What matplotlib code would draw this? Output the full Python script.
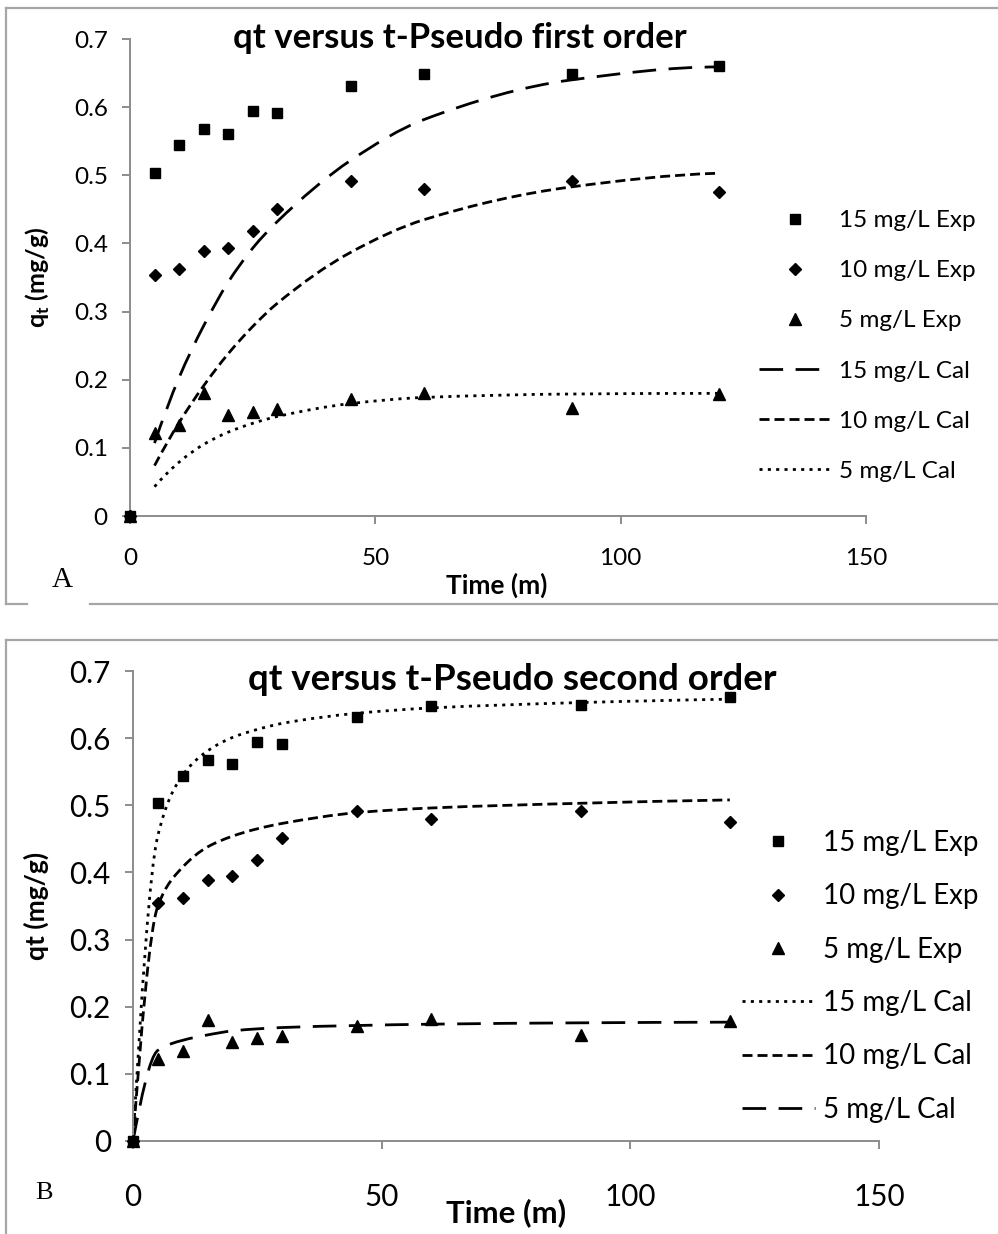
import matplotlib
matplotlib.use("Agg")
import matplotlib.pyplot as plt
from matplotlib.path import Path
from matplotlib.patches import PathPatch
from matplotlib.lines import Line2D

plt.rcParams['font.family'] = ['Lato', 'DejaVu Sans']
plt.rcParams['mathtext.fontset'] = 'custom'
plt.rcParams['mathtext.rm'] = 'Lato'
plt.rcParams['mathtext.bf'] = 'Lato:bold'

# experimental data (same in both panels)
t_exp = [0, 5, 10, 15, 20, 25, 30, 45, 60, 90, 120]
q15_exp = [0, 0.503, 0.544, 0.568, 0.561, 0.595, 0.591, 0.631, 0.648, 0.649, 0.661]
q10_exp = [0, 0.354, 0.362, 0.389, 0.394, 0.418, 0.451, 0.491, 0.480, 0.491, 0.475]
q5_exp = [0, 0.122, 0.134, 0.180, 0.148, 0.153, 0.157, 0.171, 0.181, 0.158, 0.179]

# pseudo first order calculated
t_pfo = [5, 10, 15, 20, 25, 30, 45, 60, 90, 120]
q15_pfo = [0.107, 0.203, 0.279, 0.343, 0.393, 0.432, 0.522, 0.582, 0.640, 0.659]
q10_pfo = [0.074, 0.137, 0.191, 0.238, 0.278, 0.312, 0.387, 0.435, 0.483, 0.503]
q5_pfo = [0.043, 0.079, 0.105, 0.123, 0.136, 0.146, 0.165, 0.174, 0.179, 0.180]

# pseudo second order calculated
t_pso = [0, 5, 10, 15, 20, 25, 30, 45, 60, 90, 120]
q15_pso = [0, 0.455, 0.545, 0.581, 0.601, 0.613, 0.622, 0.637, 0.645, 0.653, 0.658]
q10_pso = [0, 0.350, 0.408, 0.438, 0.454, 0.465, 0.473, 0.489, 0.496, 0.503, 0.508]
q5_pso = [0, 0.135, 0.150, 0.158, 0.164, 0.167, 0.169, 0.172, 0.174, 0.176, 0.177]

exp_labels = ['15 mg/L Exp', '10 mg/L Exp', '5 mg/L Exp']
cal_labels = ['15 mg/L Cal', '10 mg/L Cal', '5 mg/L Cal']

LONG = (0, (8.5, 4.5))
SHORT = (0, (3.6, 1.8))
DOT = (0, (1.1, 1.9))
GRID = '#8c8c8c'
W, H = 998.0, 1234.0


def end_slope(h0, h1, d0, d1):
    m = ((2 * h0 + h1) * d0 - h0 * d1) / (h0 + h1)
    if m * d0 <= 0:
        return 0.0
    if d0 * d1 <= 0 and abs(m) > 3 * abs(d0):
        return 3 * d0
    return m


def slopes(x, y):
    # monotone (pchip style) tangents so the smoothed line does not overshoot
    n = len(x)
    h = [x[i + 1] - x[i] for i in range(n - 1)]
    d = [(y[i + 1] - y[i]) / h[i] for i in range(n - 1)]
    m = [0.0] * n
    for i in range(1, n - 1):
        if d[i - 1] * d[i] > 0:
            w1 = 2 * h[i] + h[i - 1]
            w2 = h[i] + 2 * h[i - 1]
            m[i] = (w1 + w2) / (w1 / d[i - 1] + w2 / d[i])
    m[0] = end_slope(h[0], h[1], d[0], d[1])
    m[-1] = end_slope(h[-1], h[-2], d[-1], d[-2])
    return m


def smooth(ax, x, y, ls, lw=2.0):
    # smoothed line: cubic bezier segments through the points
    m = slopes(x, y)
    verts = [(x[0], y[0])]
    codes = [Path.MOVETO]
    for i in range(len(x) - 1):
        h = (x[i + 1] - x[i]) / 3
        verts += [(x[i] + h, y[i] + m[i] * h),
                  (x[i + 1] - h, y[i + 1] - m[i + 1] * h),
                  (x[i + 1], y[i + 1])]
        codes += [Path.CURVE4] * 3
    ax.add_patch(PathPatch(Path(verts, codes), fill=False, edgecolor='black',
                           lw=lw, linestyle=ls))


def panel(ax, cal_t, cal_q, cal_ls, fs, xpad, leg_xy, leg_fs, lspace, hlen, tpad):
    ax.plot(t_exp, q15_exp, 's', color='black', ms=7.5, clip_on=False, zorder=4)
    ax.plot(t_exp, q10_exp, 'D', color='black', ms=6.5, clip_on=False, zorder=4)
    ax.plot(t_exp, q5_exp, '^', color='black', ms=9, clip_on=False, zorder=4)
    for q, ls in zip(cal_q, cal_ls):
        smooth(ax, cal_t, q, ls)
    ax.set_xlim(0, 150)
    ax.set_ylim(0, 0.7)
    ax.set_xticks([0, 50, 100, 150])
    ax.set_yticks([0, 0.1, 0.2, 0.3, 0.4, 0.5, 0.6, 0.7])
    ax.set_yticklabels(['0', '0.1', '0.2', '0.3', '0.4', '0.5', '0.6', '0.7'])
    for s in ['top', 'right']:
        ax.spines[s].set_visible(False)
    for s in ['left', 'bottom']:
        ax.spines[s].set_color(GRID)
        ax.spines[s].set_linewidth(1.4)
    ax.tick_params(direction='out', length=6, width=1.4, color=GRID, labelsize=fs)
    ax.tick_params(axis='x', pad=xpad)
    ax.tick_params(axis='y', pad=10)

    handles = [Line2D([], [], ls='none', marker='s', color='black', ms=7.5),
               Line2D([], [], ls='none', marker='D', color='black', ms=6.5),
               Line2D([], [], ls='none', marker='^', color='black', ms=9)]
    for ls in cal_ls:
        handles.append(Line2D([], [], color='black', lw=2.0, linestyle=ls))
    ax.legend(handles, exp_labels + cal_labels, loc='upper left',
              bbox_to_anchor=leg_xy, bbox_transform=ax.figure.transFigure,
              frameon=False, fontsize=leg_fs, handlelength=hlen, handletextpad=tpad,
              labelspacing=lspace, borderpad=0, borderaxespad=0)


fig = plt.figure(figsize=(9.98, 12.34), dpi=100)

# panel frames
fl = dict(color='#a6a6a6', lw=1.6, transform=fig.transFigure)
fig.add_artist(Line2D([6 / W, 1], [1 - 8 / H, 1 - 8 / H], **fl))
fig.add_artist(Line2D([6 / W, 6 / W], [1 - 8 / H, 1 - 604 / H], **fl))
fig.add_artist(Line2D([6 / W, 27 / W], [1 - 604 / H, 1 - 604 / H], **fl))
fig.add_artist(Line2D([90 / W, 1], [1 - 604 / H, 1 - 604 / H], **fl))
fig.add_artist(Line2D([6 / W, 1], [1 - 640 / H, 1 - 640 / H], **fl))
fig.add_artist(Line2D([6 / W, 6 / W], [1 - 640 / H, 0], **fl))

axA = fig.add_axes([130 / W, 1 - 516 / H, 736 / W, 477 / H])
panel(axA, t_pfo, [q15_pfo, q10_pfo, q5_pfo], [LONG, SHORT, DOT],
      17.5, 17, (759 / W, 1 - 210 / H), 17.5, 1.2, 2.96, 0.33)

axB = fig.add_axes([133 / W, 1 - 1141 / H, 746 / W, 470 / H])
panel(axB, t_pso, [q15_pso, q10_pso, q5_pso], [DOT, SHORT, LONG],
      21.3, 24, (742 / W, 1 - 830 / H), 19.9, 0.99, 2.64, 0.29)

# titles and axis labels
fig.text(460 / W, 1 - 38 / H, 'qt versus t-Pseudo first order', fontsize=25,
         fontweight='bold', ha='center', va='center')
fig.text(512 / W, 1 - 680 / H, 'qt versus t-Pseudo second order', fontsize=26.4,
         fontweight='bold', ha='center', va='center')
fig.text(38 / W, 1 - 277 / H, r'q$_\mathbf{t}$ (mg/g)', fontsize=18, fontweight='bold',
         rotation=90, ha='center', va='center')
fig.text(36 / W, 1 - 906 / H, 'qt (mg/g)', fontsize=19, fontweight='bold',
         rotation=90, ha='center', va='center')
fig.text(497 / W, 1 - 585 / H, 'Time (m)', fontsize=18.9, fontweight='bold',
         ha='center', va='center')
fig.text(506 / W, 1 - 1213 / H, 'Time (m)', fontsize=22.4, fontweight='bold',
         ha='center', va='center')

fig.text(62 / W, 1 - 580 / H, 'A', family='Liberation Serif', fontsize=21,
         ha='center', va='center')
fig.text(44 / W, 1 - 1193 / H, 'B', family='Liberation Serif', fontsize=19,
         ha='center', va='center')

fig.savefig('out.png', dpi=100)
